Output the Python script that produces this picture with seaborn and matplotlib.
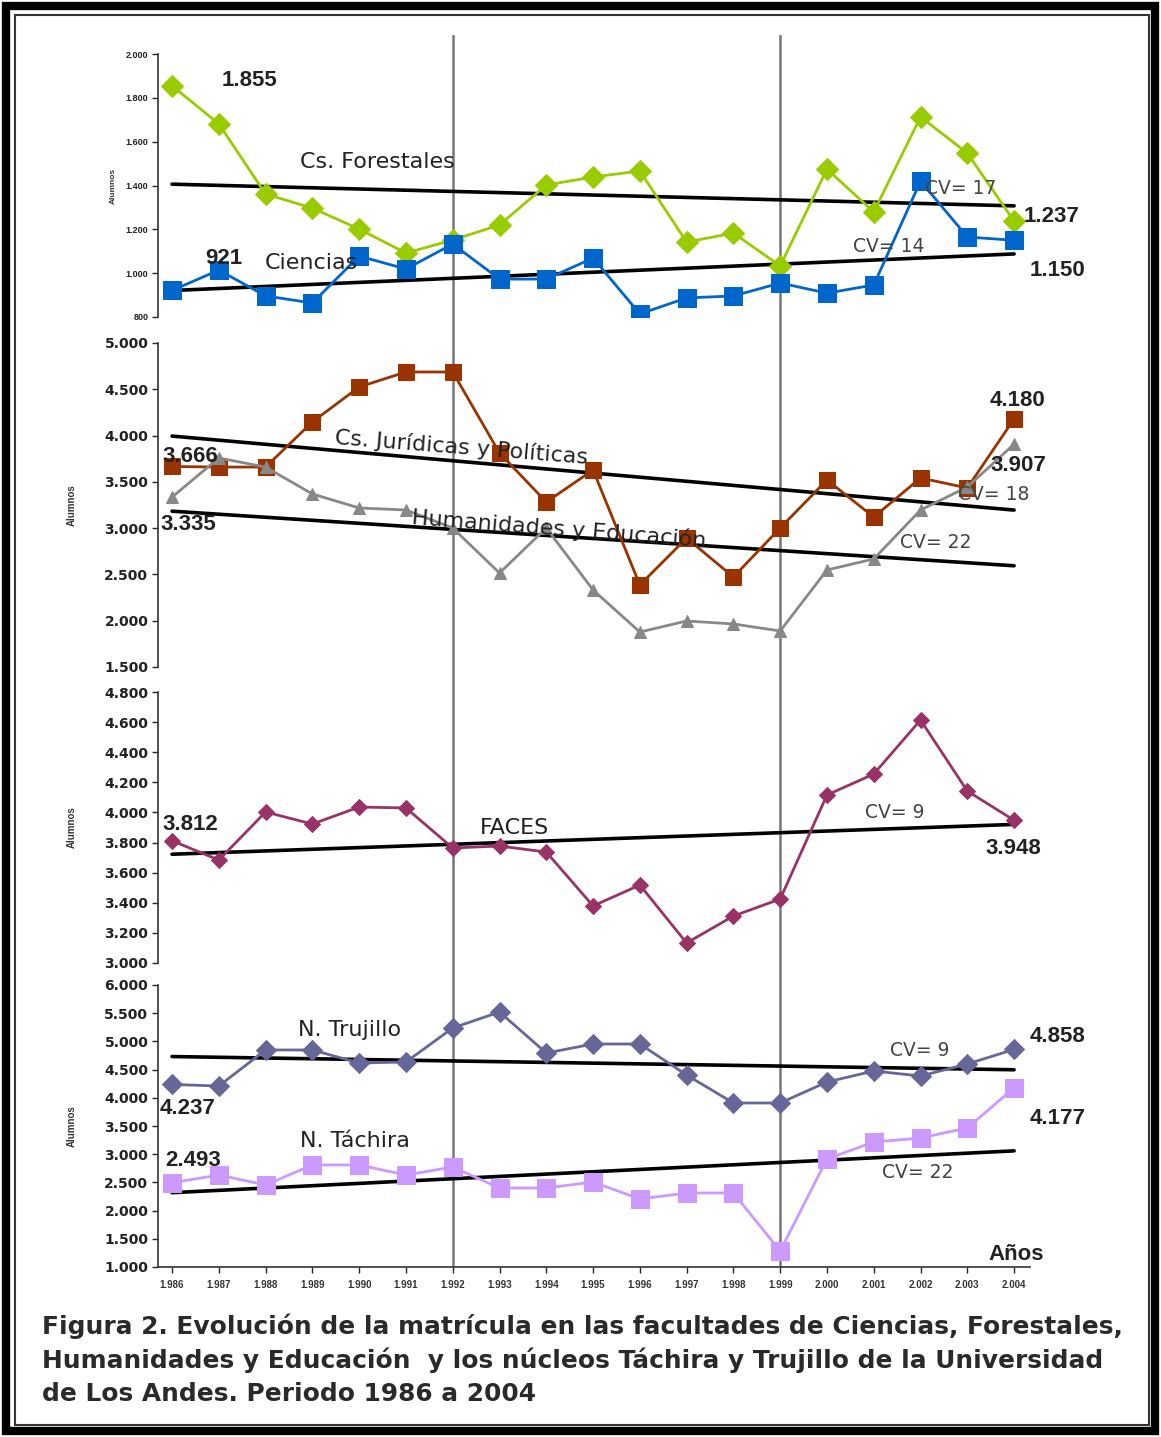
import numpy as np
import pandas as pd
import matplotlib
matplotlib.use("Agg")
import matplotlib.pyplot as plt
import seaborn as sns
from matplotlib.patches import Rectangle
from matplotlib.ticker import FuncFormatter

# ==========================================
# DATA
# ==========================================

years = list(range(1986, 2005))

forestales = [1855, 1681, 1361, 1297, 1201, 1092, 1151, 1220, 1402, 1439,
              1466, 1142, 1183, 1033, 1475, 1279, 1713, 1548, 1237]
ciencias = [921, 1014, 896, 864, 1078, 1019, 1133, 973, 973, 1069,
            814, 887, 896, 955, 909, 946, 1420, 1165, 1150]

juridicas = [3666, 3660, 3660, 4147, 4525, 4687, 4687, 3812, 3282, 3628,
             2386, 2893, 2472, 3002, 3520, 3120, 3542, 3434, 4180]
humanidades = [3335, 3758, 3660, 3369, 3218, 3196, 3002, 2515, 3002, 2332,
               1878, 1997, 1965, 1889, 2548, 2667, 3196, 3444, 3907]

faces = [3812, 3684, 4003, 3923, 4036, 4030, 3764, 3777, 3737, 3379,
         3518, 3133, 3312, 3425, 4116, 4255, 4614, 4142, 3948]

trujillo = [4237, 4209, 4848, 4848, 4617, 4635, 5238, 5521, 4794, 4954,
            4954, 4404, 3908, 3908, 4280, 4475, 4387, 4599, 4858]
tachira = [2493, 2631, 2454, 2809, 2809, 2631, 2773, 2401, 2401, 2507,
           2206, 2312, 2312, 1284, 2915, 3216, 3287, 3465, 4177]

df = pd.DataFrame({
    "year": years,
    "forestales": forestales, "ciencias": ciencias,
    "juridicas": juridicas, "humanidades": humanidades,
    "faces": faces,
    "trujillo": trujillo, "tachira": tachira,
})

# ==========================================
# FIGURE
# ==========================================

sns.set_theme(style="white")
plt.rcParams["font.family"] = ["Liberation Sans", "DejaVu Sans"]

fig = plt.figure(figsize=(11.61, 14.37), dpi=100)

W, H = 1161, 1437
x_left, x_right = 158, 1030
xlim = (1985.70, 2004.34)


def add_panel(top, bottom):
    return fig.add_axes([x_left / W, 1 - bottom / H,
                         (x_right - x_left) / W, (bottom - top) / H])


def dots(v, pos):
    return f"{int(v):,}".replace(",", ".")


# vertical marker lines behind everything
bg = fig.add_axes([x_left / W, 1 - 1267 / H,
                   (x_right - x_left) / W, (1267 - 35) / H], zorder=0)
bg.set_xlim(*xlim)
bg.set_ylim(0, 1)
bg.axvline(1992, color="#777777", lw=1.8)
bg.axvline(1999, color="#777777", lw=1.8)
bg.axis("off")

panels = [
    dict(top=54, bottom=317, ylim=(800, 2000), step=200, tick_fs=6.5,
         series=[("forestales", "#99CC00", "D", 11),
                 ("ciencias", "#0066CC", "s", 13)]),
    dict(top=343, bottom=667, ylim=(1500, 5000), step=500, tick_fs=10,
         series=[("juridicas", "#993300", "s", 11),
                 ("humanidades", "#888888", "^", 9)]),
    dict(top=692, bottom=963, ylim=(3000, 4800), step=200, tick_fs=10,
         series=[("faces", "#993366", "D", 8)]),
    dict(top=985, bottom=1267, ylim=(1000, 6000), step=500, tick_fs=10,
         series=[("trujillo", "#666699", "D", 10),
                 ("tachira", "#CC99FF", "s", 13)]),
]

axes = []
for i, p in enumerate(panels):
    ax = add_panel(p["top"], p["bottom"])
    ax.set_facecolor("none")
    ax.set_zorder(1)
    for col, color, marker, ms in p["series"]:
        sns.regplot(data=df, x="year", y=col, ax=ax, scatter=False, ci=None,
                    color="black", line_kws=dict(lw=2.6, zorder=2))
        sns.lineplot(data=df, x="year", y=col, ax=ax, color=color,
                     marker=marker, markersize=ms, markeredgecolor=color,
                     lw=2, zorder=3)
    ax.set_xlim(*xlim)
    ax.set_ylim(*p["ylim"])
    ax.set_yticks(np.arange(p["ylim"][0], p["ylim"][1] + 1, p["step"]))
    ax.yaxis.set_major_formatter(FuncFormatter(dots))
    ax.tick_params(axis="y", labelsize=p["tick_fs"], length=4, width=1,
                   left=True, pad=3)
    for lab in ax.get_yticklabels():
        lab.set_fontweight("bold")
        lab.set_color("#222222")
        if i > 0:
            lab.set_family("DejaVu Sans")
    ax.set_ylabel("Alumnos", fontsize=6 if i == 0 else 7, fontweight="bold",
                  color="#333333", labelpad=6 if i == 0 else 20)
    ax.set_xlabel("")
    for s in ["top", "right", "bottom"]:
        ax.spines[s].set_visible(False)
    ax.spines["left"].set_color("#333333")
    ax.spines["left"].set_linewidth(1.2)
    if i < 3:
        ax.set_xticks([])
    else:
        ax.spines["bottom"].set_visible(True)
        ax.spines["bottom"].set_color("#333333")
        ax.spines["bottom"].set_linewidth(1.2)
        ax.set_xticks(years)
        ax.xaxis.set_major_formatter(FuncFormatter(dots))
        ax.tick_params(axis="x", labelsize=7, length=4, width=1,
                       bottom=True, pad=5)
        for lab in ax.get_xticklabels():
            lab.set_fontweight("bold")
            lab.set_color("#333333")
    axes.append(ax)

# ==========================================
# ANNOTATIONS (pixel positions in figure)
# ==========================================


def ftext(x, y, s, size=15, bold=False, rot=0, color="#222222", ha="left",
          family=None):
    fig.text(x / W, 1 - y / H, s, fontsize=size,
             fontweight="bold" if bold else "normal",
             rotation=rot, color=color, ha=ha, va="center",
             rotation_mode="anchor", zorder=5,
             family=family if family else ["Liberation Sans", "DejaVu Sans"])


wide = ["DejaVu Sans"]

ftext(300, 162, "Cs. Forestales", 16, family=wide)
ftext(265, 263, "Ciencias", 16, family=wide)
ftext(335, 438, "Cs. Jurídicas y Políticas", 16, rot=-4.5, family=wide)
ftext(412, 517, "Humanidades y Educación", 16, rot=-4.5, family=wide)
ftext(480, 828, "FACES", 16, family=wide)
ftext(298, 1030, "N. Trujillo", 16, family=wide)
ftext(300, 1141, "N. Táchira", 16, family=wide)

ftext(925, 188, "CV= 17", 13.5, color="#444444", family=wide)
ftext(853, 246, "CV= 14", 13.5, color="#444444", family=wide)
ftext(958, 494, "CV= 18", 13.5, color="#444444", family=wide)
ftext(900, 542, "CV= 22", 13.5, color="#444444", family=wide)
ftext(865, 812, "CV= 9", 13.5, color="#444444", family=wide)
ftext(890, 1050, "CV= 9", 13.5, color="#444444", family=wide)
ftext(882, 1172, "CV= 22", 13.5, color="#444444", family=wide)

ftext(222, 80, "1.855", 16, bold=True)
ftext(205, 258, "921", 16, bold=True)
ftext(1024, 216, "1.237", 16, bold=True)
ftext(1030, 270, "1.150", 16, bold=True)
ftext(162, 457, "3.666", 16, bold=True)
ftext(160, 525, "3.335", 16, bold=True)
ftext(990, 400, "4.180", 16, bold=True)
ftext(990, 466, "3.907", 16, bold=True)
ftext(162, 825, "3.812", 16, bold=True)
ftext(985, 848, "3.948", 16, bold=True)
ftext(160, 1108, "4.237", 16, bold=True)
ftext(1030, 1037, "4.858", 16, bold=True)
ftext(165, 1160, "2.493", 16, bold=True)
ftext(1030, 1118, "4.177", 16, bold=True)
ftext(988, 1255, "Años", 16, bold=True)

caption = ["Figura 2. Evolución de la matrícula en las facultades de Ciencias, Forestales,",
           "Humanidades y Educación  y los núcleos Táchira y Trujillo de la Universidad",
           "de Los Andes. Periodo 1986 a 2004"]
for k, line in enumerate(caption):
    ftext(42, 1326 + k * 34, line, 17.9, bold=True, color="#2a2a2a",
          family=wide)

# double frame around the figure
fig.add_artist(Rectangle((6 / W, 6 / H), 1 - 12 / W, 1 - 12 / H,
                         transform=fig.transFigure, fill=False,
                         edgecolor="black", lw=6))
fig.add_artist(Rectangle((15 / W, 12 / H), 1 - 27 / W, 1 - 27 / H,
                         transform=fig.transFigure, fill=False,
                         edgecolor="#333333", lw=1.5))

plt.savefig("out.png", dpi=100)
